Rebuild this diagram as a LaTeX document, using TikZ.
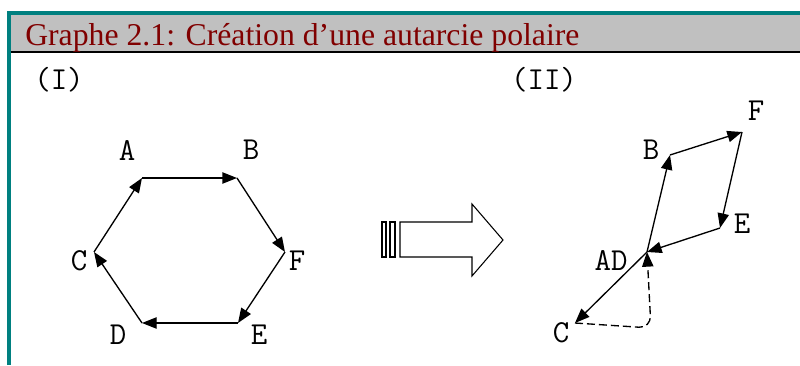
\documentclass[tikz,border=0pt]{standalone}
\usepackage{fontspec}
\newfontfamily\titlefont{Liberation Serif}
\usetikzlibrary{arrows.meta}
\definecolor{frameteal}{HTML}{008080}
\definecolor{headgray}{HTML}{C0C0C0}
\definecolor{titlered}{HTML}{800000}
\begin{document}
\begin{tikzpicture}[x=0.75pt, y=-0.75pt,
  lbl/.style = {font=\ttfamily\fontsize{24}{24}\selectfont, inner sep=0pt},
  edge/.style = {line width=1pt, -{Triangle[length=11pt,width=8.5pt]}},
  dashedge/.style = {edge, dash pattern=on 6pt off 3pt, rounded corners=9pt}]
\useasboundingbox (0,0) rectangle (800,365);
% frame and header
\fill[white] (0,0) rectangle (800,365);
\fill[headgray] (9,13) rectangle (800,51);
\draw[frameteal, line width=3pt] (9,365) -- (9,13) -- (800,13);
\draw[line width=2pt] (10.5,52) -- (800,52);
\node[anchor=base west, text=titlered, inner sep=0pt, font=\titlefont\fontsize{23.8}{23.8}\selectfont] (title) at (25,45) {Graphe 2.1: Création d’une autarcie polaire};
% graph (I)
\node[lbl] (one) at (59,80) {(I)};
\coordinate (a) at (142,178);
\coordinate (b) at (237,178);
\coordinate (f) at (285,252);
\coordinate (e) at (238,323);
\coordinate (d) at (142,323);
\coordinate (c) at (94,252);
\node[lbl] (la) at (127,150) {A};
\node[lbl] (lb) at (251,150) {B};
\node[lbl] (lf) at (297,261) {F};
\node[lbl] (le) at (259,335) {E};
\node[lbl] (ld) at (118,335) {D};
\node[lbl] (lc) at (79,261) {C};
\draw[edge] (c) -- (a);
\draw[edge] (a) -- (b);
\draw[edge] (b) -- (f);
\draw[edge] (f) -- (e);
\draw[edge] (e) -- (d);
\draw[edge] (d) -- (c);
% block arrow
\draw[line width=0.8pt, fill=white] (382,222) rectangle (386,257);
\draw[line width=0.8pt, fill=white] (390,222) rectangle (395,257);
\draw[line width=0.8pt, fill=white] (400,222) -- (472,222) -- (472,204) -- (503,240)
  -- (472,276) -- (472,257) -- (400,257) -- cycle;
% graph (II)
\node[lbl] (two) at (544,80) {(II)};
\coordinate (b2) at (670,155);
\coordinate (f2) at (742,132);
\coordinate (e2) at (720,228);
\coordinate (ad) at (647,252);
\coordinate (c2) at (575,323);
\coordinate (bend) at (651,328);
\node[lbl] (lb2) at (651,150) {B};
\node[lbl] (lf2) at (756,111) {F};
\node[lbl] (le2) at (742,224) {E};
\node[lbl] (lad) at (611,260) {AD};
\node[lbl] (lc2) at (561,333) {C};
\draw[edge] (ad) -- (b2);
\draw[edge] (b2) -- (f2);
\draw[edge] (f2) -- (e2);
\draw[edge] (e2) -- (ad);
\draw[edge] (ad) -- (c2);
\draw[dashedge] (c2) -- (bend) -- (ad);
\end{tikzpicture}
\end{document}
